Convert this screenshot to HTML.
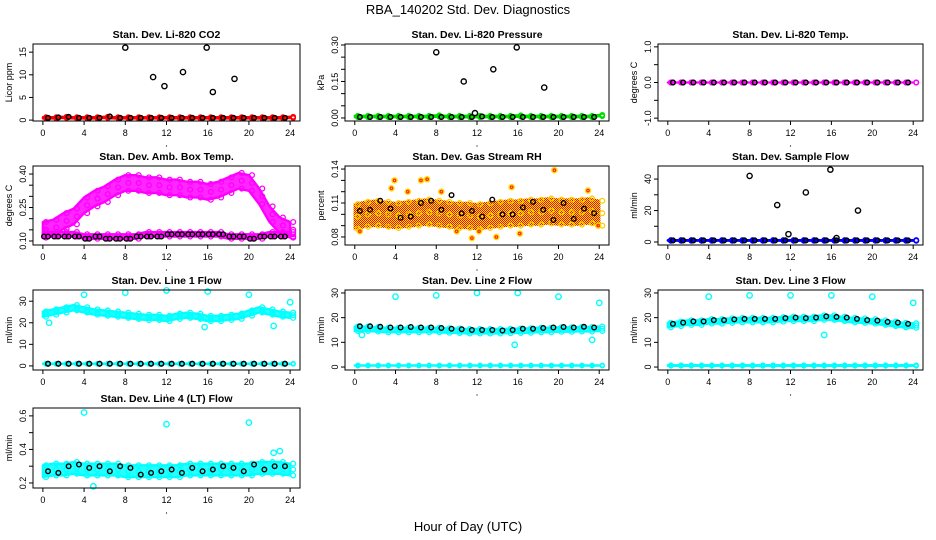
<!DOCTYPE html>
<html><head><meta charset="utf-8"><style>
body{margin:0;background:#fff}
svg{display:block;font-family:"Liberation Sans",sans-serif}
</style></head><body>
<svg id="c" width="936" height="540" viewBox="0 0 936 540">
<defs>
<pattern id="dither" width="2" height="2" patternUnits="userSpaceOnUse">
<rect width="2" height="2" fill="#ffee00"/><rect width="1" height="1" fill="#ff0000"/><rect x="1" y="1" width="1" height="1" fill="#ff0000"/>
</pattern>
</defs>
<text x="468" y="14" font-size="13" text-anchor="middle">RBA_140202  Std. Dev. Diagnostics</text>
<text x="468" y="531" font-size="13" text-anchor="middle">Hour of Day (UTC)</text>
</svg>
<script>
const hours=[0,1,2,3,4,5,6,7,8,9,10,11,12,13,14,15,16,17,18,19,20,21,22,23,24];
// CO2
const co2Band=[0.5,0.5,0.6,0.5,0.5,0.5,0.6,0.5,0.5,0.5,0.5,0.5,0.5,0.5,0.5,0.5,0.5,0.5,0.5,0.5,0.5,0.5,0.5,0.5,0.6];
const co2Black=[0.5,0.6,0.7,0.5,0.5,0.5,0.8,0.5,0.5,0.5,0.5,0.5,0.5,0.5,0.5,0.5,0.5,0.5,0.5,0.5,0.5,0.5,0.5,0.5,0.7];
const co2OutX=[8,10.7,11.8,13.6,15.9,16.5,18.6];
const co2OutY=[16,9.5,7.5,10.6,16,6.2,9.1];
// Pressure
const presBand=[0.006,0.006,0.006,0.006,0.006,0.006,0.006,0.006,0.008,0.006,0.006,0.006,0.006,0.006,0.006,0.006,0.008,0.006,0.006,0.006,0.006,0.006,0.006,0.006,0.01];
const presBlack=[0.004,0.004,0.004,0.004,0.004,0.004,0.004,0.004,0.004,0.004,0.004,0.004,0.006,0.004,0.004,0.004,0.004,0.004,0.004,0.004,0.004,0.004,0.004,0.004,0.004];
const presOutX=[8,10.7,11.8,13.6,15.9,18.6];
const presOutY=[0.27,0.15,0.02,0.2,0.29,0.125];
// Temp
const tempBand=[0,0,0,0,0,0,0,0,0,0,0,0,0,0,0,0,0,0,0,0,0,0,0,0,0];
// Amb box temp
const ambMid=[0.15,0.16,0.19,0.21,0.26,0.29,0.31,0.34,0.36,0.36,0.35,0.35,0.34,0.34,0.33,0.33,0.32,0.33,0.35,0.37,0.36,0.30,0.22,0.17,0.15];
const ambLow=[0.13,0.13,0.13,0.13,0.12,0.12,0.12,0.12,0.12,0.12,0.13,0.13,0.13,0.13,0.13,0.13,0.13,0.13,0.12,0.12,0.12,0.12,0.13,0.13,0.13];
const ambBlack=[0.12,0.12,0.12,0.12,0.11,0.12,0.11,0.11,0.11,0.12,0.12,0.12,0.13,0.13,0.13,0.13,0.13,0.13,0.12,0.12,0.11,0.12,0.12,0.12,0.13];
// Gas stream RH
const rhMid=[0.098,0.100,0.101,0.100,0.099,0.100,0.101,0.102,0.101,0.100,0.099,0.099,0.098,0.099,0.100,0.101,0.101,0.102,0.102,0.103,0.102,0.102,0.102,0.103,0.101];
const rhBlack=[0.103,0.104,0.112,0.105,0.097,0.098,0.110,0.112,0.104,0.117,0.101,0.103,0.098,0.113,0.100,0.100,0.106,0.111,0.104,0.095,0.110,0.096,0.105,0.101,0.100];
const rhOutX=[0.5,3.6,5.2,6.5,7.1,8.5,10,11.5,12.2,13.9,15.4,16.2,19.6,22.9,23.9,3.9];
const rhOutY=[0.085,0.123,0.120,0.130,0.131,0.120,0.085,0.079,0.085,0.080,0.124,0.083,0.139,0.121,0.090,0.130];
// Sample flow
const sfBand=[1,1,1,1,1,1,1,1,1,1,1,1,1,1,1,1,1,1,1,1,1,1,1,1,1];
const sfOutX=[8,10.7,11.8,13.5,15.9,16.5,18.6];
const sfOutY=[42,23.5,5,31.5,46,2.5,20];
// Line 1
const l1Mid=[24,25,26,27,26,25,24.5,24,23.5,23,22.5,22.5,22,23,23.5,23,22,22,22.5,23,24.5,26,25,24,23.5];
const l1OutX=[4,8,12,16,20,24,0.6,15.7,22.4];
const l1OutY=[33,34,35,34.5,33,29.5,20,18,18.5];
const l1Low=[1,1,1,1,1,1,1,1,1,1,1,1,1,1,1,1,1,1,1,1,1,1,1,1,1];
// Line 2
const l2Mid=[15.5,15.5,15.3,15,15,15,15,15,15,14.8,14.7,14.5,14.5,14.5,14.5,14.6,14.7,14.8,15,15,15.2,15.2,15.3,15.3,15.5];
const l2Black=[16.5,16.5,16.3,16,16,16.2,16,16,15.8,15.5,15.3,15,15,15,14.8,15,15.5,15.5,15.8,16,16.2,16,16.3,16,16];
const l2OutX=[4,8,12,16,20,24,15.7,23.3,0.7];
const l2OutY=[28.5,29,30,30,28.5,26,9,11,13];
const l2Low=[0.6,0.6,0.6,0.6,0.6,0.6,0.6,0.6,0.6,0.6,0.6,0.6,0.6,0.6,0.6,0.6,0.6,0.6,0.6,0.6,0.6,0.6,0.6,0.6,0.6];
// Line 3
const l3Mid=[17,17.5,18,18,18.5,18.5,18.8,19,19,19,19,19.3,19.5,19.5,19.5,20,20,19.5,19,18.8,18.5,18,17.5,17,16.8];
const l3Black=[17.5,18,18.5,18.5,19,19,19.3,19.5,19.5,19.5,19.5,19.8,20,19.8,20,20.5,20.3,20,19.5,19,18.8,18.3,18,17.5,17.2];
const l3OutX=[4,8,12,16,20,24,15.3];
const l3OutY=[28.5,29,29,29,28.5,26,13];
// Line 4
const l4Mid=[0.27,0.28,0.28,0.29,0.28,0.28,0.28,0.28,0.27,0.27,0.27,0.27,0.27,0.27,0.28,0.28,0.28,0.28,0.28,0.28,0.28,0.29,0.29,0.29,0.28];
const l4Black=[0.27,0.26,0.30,0.31,0.29,0.30,0.27,0.30,0.29,0.25,0.26,0.27,0.28,0.26,0.29,0.27,0.28,0.30,0.29,0.27,0.31,0.28,0.30,0.30,0.29];
const l4OutX=[4,12,20,4.9,22.4,23];
const l4OutY=[0.62,0.55,0.56,0.18,0.38,0.39];
const xTicks=[0,4,8,12,16,20,24];

const NS="http://www.w3.org/2000/svg";
const svg=document.getElementById('c');
function el(tag,attrs,parent){const e=document.createElementNS(NS,tag);for(const k in attrs)e.setAttribute(k,attrs[k]);(parent||svg).appendChild(e);return e;}

function panel(cfg){
  const g=el('g',{});
  
  
  const [bx0,bx1]=cfg.bx,[by0,by1]=cfg.by;
  const xs=v=>bx0+(v+0.96)/25.92*(bx1-bx0);
  const ys=v=>by1-(v-cfg.ylim[0])/(cfg.ylim[1]-cfg.ylim[0])*(by1-by0);
  cfg.draw(g,xs,ys);
  const box=el('rect',{x:bx0,y:by0,width:bx1-bx0,height:by1-by0,fill:'none',stroke:'#000','stroke-width':1},g);
  
  const t=el('text',{x:(bx0+bx1)/2,y:by0-6,'font-size':10.5,'font-weight':'bold','text-anchor':'middle'},g);
  t.textContent=cfg.title;
  
  xTicks.forEach(v=>{
    const x=xs(v);
    el('line',{x1:x,x2:x,y1:by1,y2:by1+4,stroke:'#000'},g);
    const tl=el('text',{x:x,y:by1+15,'font-size':9,'text-anchor':'middle'},g);
    tl.textContent=v;
    
  });
  el('circle',{cx:(bx0+bx1)/2,cy:by1+25,r:0.6,fill:'#000'},g);
  cfg.yticks.forEach(v=>{
    const y=ys(v);
    el('line',{x1:bx0-4,x2:bx0,y1:y,y2:y,stroke:'#000'},g);
  });
  cfg.ylabels.forEach((v,i)=>{
    const y=ys(v);
    const tl=el('text',{x:0,y:0,'font-size':9,'text-anchor':'middle',transform:`translate(${bx0-7},${y}) rotate(-90)`},g);
    tl.textContent=cfg.ylabText[i];
    
  });
  const yl=el('text',{x:0,y:0,'font-size':9,'text-anchor':'middle',transform:`translate(${bx0-21},${(by0+by1)/2}) rotate(-90)`},g);
  yl.textContent=cfg.ylab;
  
}
function band(g,xs,ys,vals,spread,color,r,fill,ptColor){
  let pts=hours.map((h,i)=>xs(h)+','+ys(vals[i]+spread)).concat(hours.slice().reverse().map((h,j)=>xs(h)+','+ys(vals[hours.length-1-j]-spread)));
  el('polygon',{points:pts.join(' '),fill:fill||color,'fill-opacity':fill?1:0.85,stroke:fill||color,'stroke-width':r,'stroke-linejoin':'round'},g);
  hours.forEach((h,i)=>{[-spread,0,spread].forEach(d=>{
    const c=el('circle',{cx:xs(h+0.3),cy:ys(vals[i]+d),r:r,fill:'none',stroke:ptColor||color,'stroke-width':1.3},g);
    
  });});
}
function pts(g,xs,ys,X,Y,color,r,name){
  X.forEach((x,i)=>{
    const c=el('circle',{cx:xs(x),cy:ys(Y[i]),r:r||2.5,fill:'none',stroke:color,'stroke-width':1.4},g);
    
  });
}
function hourPts(g,xs,ys,vals,color,name,off){
  pts(g,xs,ys,hours.map(h=>h+(off||0.5)).slice(0,24),vals.slice(0,24),color,2.3,name);
}
const C1=[33,300],C2=[345,609],C3=[658,923];
const R1=[44,121],R2=[166,245],R3=[290,370],R4=[408,488];

panel({name:'panel-co2',bx:C1,by:R1,ylim:[-0.2,16.8],title:'Stan. Dev. Li-820 CO2',ylab:'Licor ppm',
 yticks:[0,5,10,15],ylabels:[0,5,10,15],ylabText:['0','5','10','15'],
 draw:(g,xs,ys)=>{band(g,xs,ys,co2Band,0.15,'#ff0000',2.2);hourPts(g,xs,ys,co2Black,'#000','co2-point');hourPts(g,xs,ys,co2Black,'#000','co2-point',0);pts(g,xs,ys,co2OutX,co2OutY,'#000',2.6,'co2-outlier');}});
panel({name:'panel-pressure',bx:C2,by:R1,ylim:[-0.0125,0.304],title:'Stan. Dev. Li-820 Pressure',ylab:'kPa',
 yticks:[0,0.05,0.1,0.15,0.2,0.25,0.3],ylabels:[0,0.15,0.3],ylabText:['0.00','0.15','0.30'],
 draw:(g,xs,ys)=>{band(g,xs,ys,presBand,0.003,'#00dd00',2.2);hourPts(g,xs,ys,presBlack,'#000','pressure-point');hourPts(g,xs,ys,presBlack,'#000','pressure-point',0);pts(g,xs,ys,presOutX,presOutY,'#000',2.6,'pressure-outlier');}});
panel({name:'panel-temp',bx:C3,by:R1,ylim:[-1.08,1.08],title:'Stan. Dev. Li-820 Temp.',ylab:'degrees C',
 yticks:[-1,-0.5,0,0.5,1],ylabels:[-1,0,1],ylabText:['-1.0','0.0','1.0'],
 draw:(g,xs,ys)=>{band(g,xs,ys,tempBand,0.0,'#ff00ff',2.3);hourPts(g,xs,ys,tempBand,'#000','temp-point');hourPts(g,xs,ys,tempBand,'#000','temp-point',0);}});
panel({name:'panel-amb-temp',bx:C1,by:R2,ylim:[0.082,0.436],title:'Stan. Dev. Amb. Box Temp.',ylab:'degrees C',
 yticks:[0.1,0.15,0.2,0.25,0.3,0.35,0.4],ylabels:[0.1,0.25,0.4],ylabText:['0.10','0.25','0.40'],
 draw:(g,xs,ys)=>{band(g,xs,ys,ambMid,0.035,'#ff00ff',2.4);band(g,xs,ys,ambLow,0.01,'#ff00ff',2.4);hourPts(g,xs,ys,ambBlack,'#000','amb-point');hourPts(g,xs,ys,ambBlack,'#000','amb-point',0.1);}});
panel({name:'panel-rh',bx:C2,by:R2,ylim:[0.0729,0.1427],title:'Stan. Dev. Gas Stream RH',ylab:'percent',
 yticks:[0.08,0.09,0.1,0.11,0.12,0.13,0.14],ylabels:[0.08,0.11,0.14],ylabText:['0.08','0.11','0.14'],
 draw:(g,xs,ys)=>{band(g,xs,ys,rhMid,0.011,'#ff9900',2.4,'url(#dither)','#ffcc00');pts(g,xs,ys,rhOutX,rhOutY,'#ffdd00',2.6,'rh-outlier');pts(g,xs,ys,rhOutX,rhOutY,'#ff3300',1.2,'rh-outlier-core');hourPts(g,xs,ys,rhBlack,'#000','rh-point');}});
panel({name:'panel-sample-flow',bx:C3,by:R2,ylim:[-1.9,48.3],title:'Stan. Dev. Sample Flow',ylab:'ml/min',
 yticks:[0,10,20,30,40],ylabels:[0,20,40],ylabText:['0','20','40'],
 draw:(g,xs,ys)=>{band(g,xs,ys,sfBand,0.2,'#0000ff',2.3);hourPts(g,xs,ys,sfBand,'#000','flow-point');hourPts(g,xs,ys,sfBand,'#000','flow-point',0);pts(g,xs,ys,sfOutX,sfOutY,'#000',2.6,'flow-outlier');}});
panel({name:'panel-line1',bx:C1,by:R3,ylim:[-1.9,35.2],title:'Stan. Dev. Line 1 Flow',ylab:'ml/min',
 yticks:[0,10,20,30],ylabels:[0,10,20,30],ylabText:['0','10','20','30'],
 draw:(g,xs,ys)=>{band(g,xs,ys,l1Mid,1.2,'#00ffff',2.4);band(g,xs,ys,l1Low,0.1,'#00ffff',2);hourPts(g,xs,ys,l1Low,'#000','line1-low-point');hourPts(g,xs,ys,l1Low,'#000','line1-low-point',0);pts(g,xs,ys,l1OutX,l1OutY,'#00ffff',2.7,'line1-outlier');}});
panel({name:'panel-line2',bx:C2,by:R3,ylim:[-1.2,31.2],title:'Stan. Dev. Line 2 Flow',ylab:'ml/min',
 yticks:[0,10,20,30],ylabels:[0,10,20,30],ylabText:['0','10','20','30'],
 draw:(g,xs,ys)=>{band(g,xs,ys,l2Mid,0.9,'#00ffff',2.4);band(g,xs,ys,l2Low,0.1,'#00ffff',2);hourPts(g,xs,ys,l2Black,'#000','line2-point');pts(g,xs,ys,l2OutX,l2OutY,'#00ffff',2.7,'line2-outlier');}});
panel({name:'panel-line3',bx:C3,by:R3,ylim:[-1.2,31.2],title:'Stan. Dev. Line 3 Flow',ylab:'ml/min',
 yticks:[0,10,20,30],ylabels:[0,10,20,30],ylabText:['0','10','20','30'],
 draw:(g,xs,ys)=>{band(g,xs,ys,l3Mid,0.9,'#00ffff',2.4);band(g,xs,ys,l2Low,0.2,'#00ffff',2);hourPts(g,xs,ys,l3Black,'#000','line3-point');pts(g,xs,ys,l3OutX,l3OutY,'#00ffff',2.7,'line3-outlier');}});
panel({name:'panel-line4',bx:C1,by:R4,ylim:[0.17,0.647],title:'Stan. Dev. Line 4 (LT) Flow',ylab:'ml/min',
 yticks:[0.2,0.3,0.4,0.5,0.6],ylabels:[0.2,0.4,0.6],ylabText:['0.2','0.4','0.6'],
 draw:(g,xs,ys)=>{band(g,xs,ys,l4Mid,0.035,'#00ffff',2.4);hourPts(g,xs,ys,l4Black,'#000','line4-point');pts(g,xs,ys,l4OutX,l4OutY,'#00ffff',2.7,'line4-outlier');}});
</script>
</body></html>
